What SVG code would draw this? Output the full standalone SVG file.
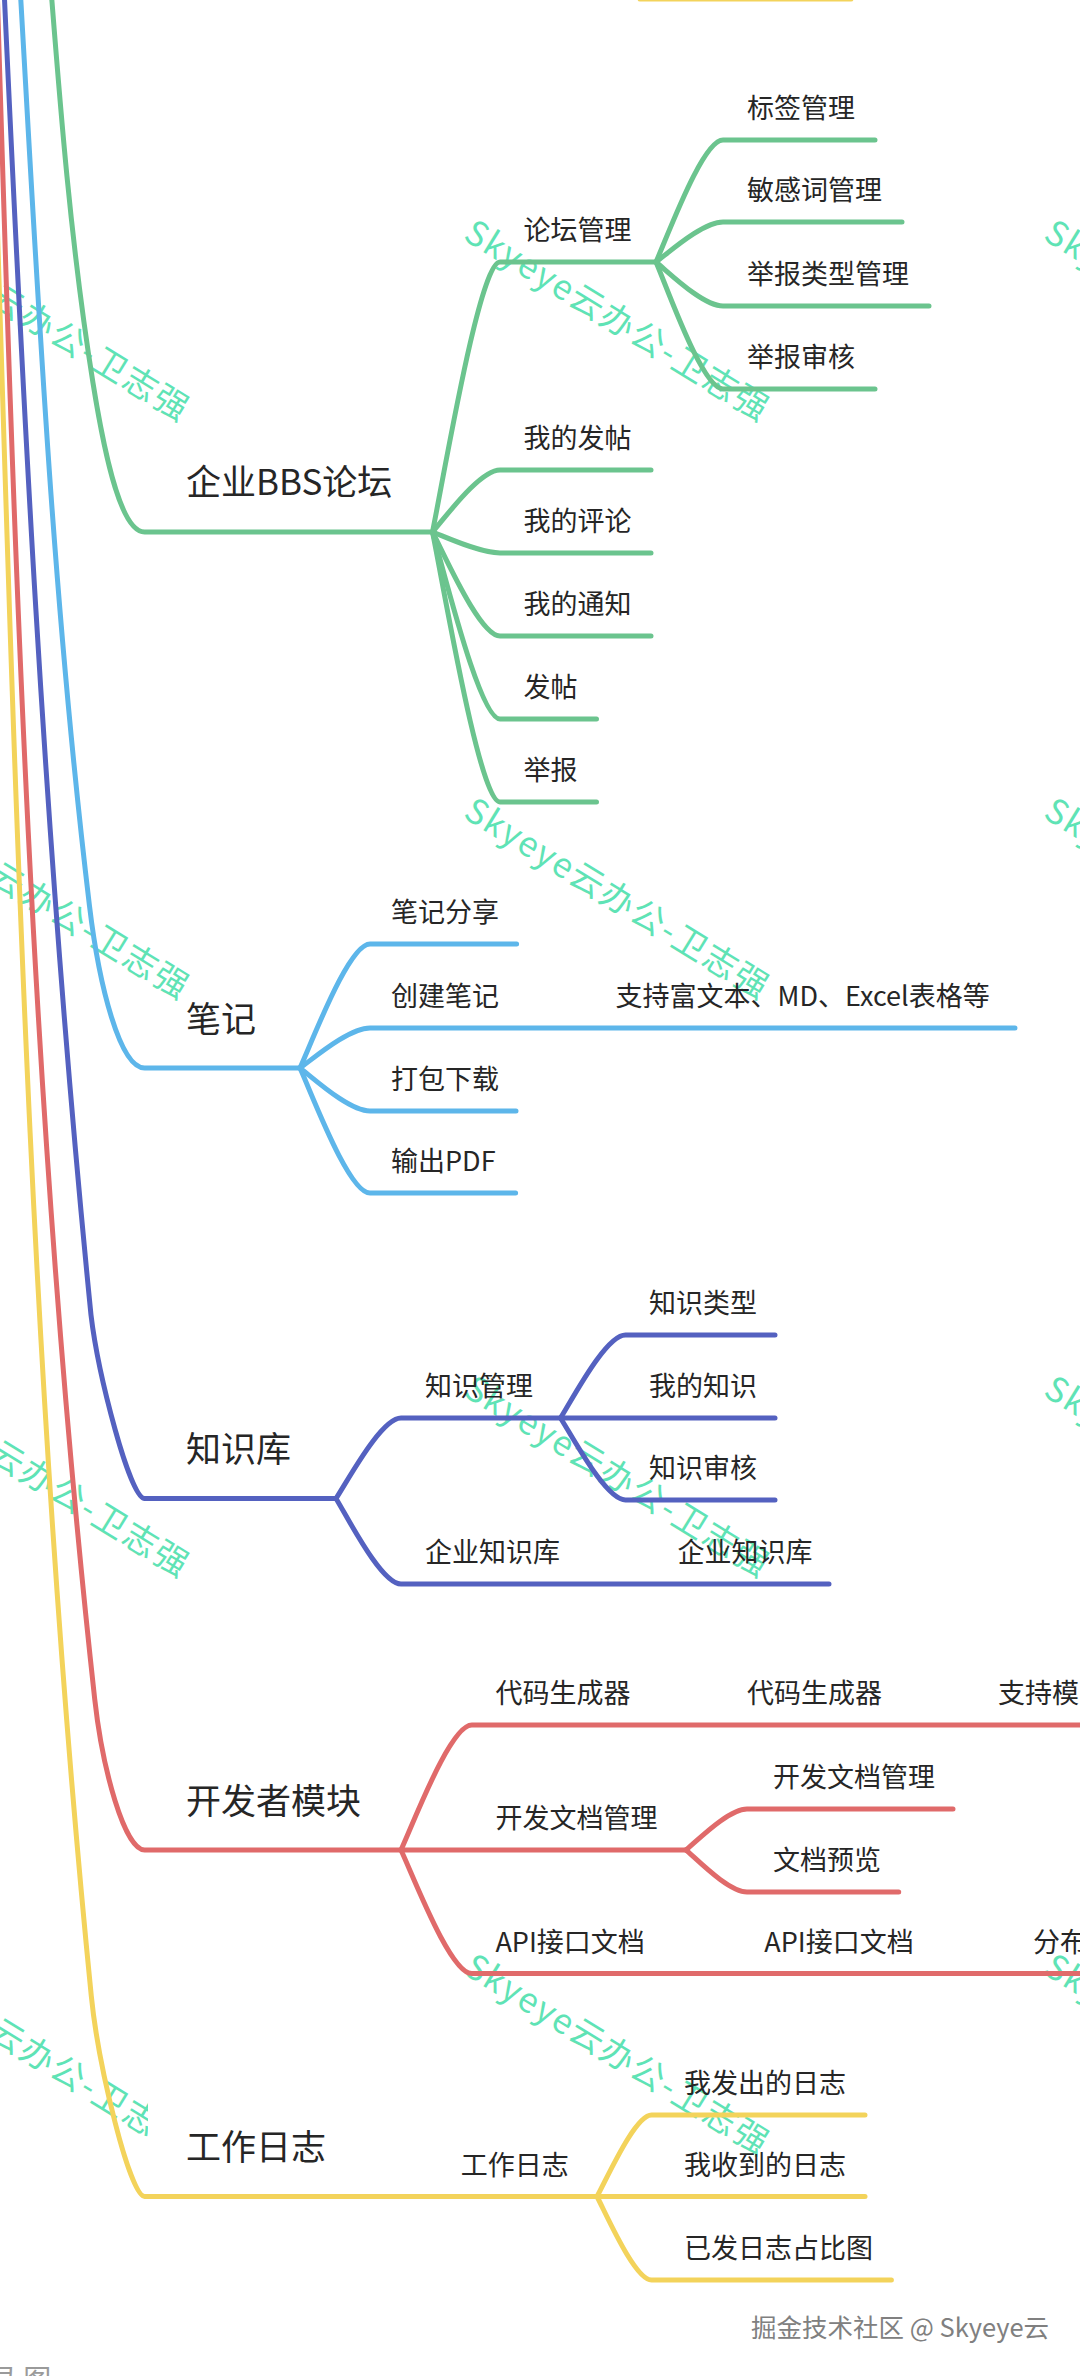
<svg xmlns="http://www.w3.org/2000/svg" xmlns:xlink="http://www.w3.org/1999/xlink" width="1080" height="2376" viewBox="0 0 1080 2376">
<style>
.t{font-family:"Noto Sans CJK SC","Noto Sans",sans-serif;fill:#262626}
.main{font-size:35px}
.sub{font-size:27px}
.ln{fill:none;stroke-width:5;stroke-linecap:round;stroke-linejoin:round}
.g{stroke:#6bc48e}
.lb{stroke:#5db6ea}
.db{stroke:#5461c0}
.r{stroke:#e06a6a}
.y{stroke:#f3d35b}
.wm{font-family:"Noto Sans CJK SC","Noto Sans",sans-serif;font-size:34px;fill:#5fe3b5}
.ft{font-family:"Noto Sans CJK SC","Noto Sans",sans-serif;font-size:25.5px;fill:#808080}
</style>
<defs>
<text id="wm" class="wm" x="0" y="0" transform="rotate(31.6)" textLength="349" lengthAdjust="spacing">Skyeye云办公-卫志强</text>
<clipPath id="clipL3"><rect x="-300" y="1800" width="448" height="500"/></clipPath>
</defs>
<rect width="1080" height="2376" fill="#ffffff"/>
<g id="watermarks">
<use xlink:href="#wm" transform="translate(-118,239)"/>
<use xlink:href="#wm" transform="translate(462,239)"/>
<use xlink:href="#wm" transform="translate(1042,239)"/>
<use xlink:href="#wm" transform="translate(-118,817)"/>
<use xlink:href="#wm" transform="translate(462,817)"/>
<use xlink:href="#wm" transform="translate(1042,817)"/>
<use xlink:href="#wm" transform="translate(-118,1395)"/>
<use xlink:href="#wm" transform="translate(462,1395)"/>
<use xlink:href="#wm" transform="translate(1042,1395)"/>
<g clip-path="url(#clipL3)"><use xlink:href="#wm" transform="translate(-118,1973)"/></g>
<use xlink:href="#wm" transform="translate(462,1973)"/>
<use xlink:href="#wm" transform="translate(1042,1973)"/>
</g>
<g id="connectors">
<path class="ln y" d="M640 -1 L851 -1"/>
<path class="ln g" d="M44 -100 C56.9 61 67.2 222 93 383 C105.8 463 122 532 144.6 532 L432.5 532"/>
<path class="ln lb" d="M15 -100 C35 235 49.3 571 89.5 906 C99.1 986 120 1068 144.6 1068 L300 1068"/>
<path class="ln db" d="M0 -100 C21.2 372 43.8 843 91 1315 C98.2 1375 130 1498.5 144.6 1498.5 L336 1498.5"/>
<path class="ln r" d="M-4 -50 C13.5 533 30.6 1116 94.7 1699 C102.4 1769 124.6 1850 144.6 1850 L401 1850"/>
<path class="ln y" d="M-5 150 C15 799 31.4 1397 91.3 1996 C98.3 2066 130 2196.5 144.6 2196.5 L597 2196.5"/>
<path class="ln g" d="M432.5 532 C446 464.5 480 262 500 262 L656 262"/>
<path class="ln g" d="M432.5 532 C446 516.5 480 470 500 470 L651 470"/>
<path class="ln g" d="M432.5 532 C446 537.25 480 553 500 553 L651 553"/>
<path class="ln g" d="M432.5 532 C446 558 480 636 500 636 L651 636"/>
<path class="ln g" d="M432.5 532 C446 578.75 480 719 500 719 L596.5 719"/>
<path class="ln g" d="M432.5 532 C446 599.5 480 802 500 802 L596.5 802"/>
<path class="ln g" d="M656 262 C669.4 231.5 702.9 140 723 140 L875 140"/>
<path class="ln g" d="M656 262 C669.4 252 702.9 222 723 222 L902 222"/>
<path class="ln g" d="M656 262 C669.4 273 702.9 306 723 306 L929 306"/>
<path class="ln g" d="M656 262 C669.4 293.75 702.9 389 723 389 L875 389"/>
<path class="ln lb" d="M300 1068 C314 1037 349 944 370 944 L516.6 944"/>
<path class="ln lb" d="M300 1068 C314 1058 349 1028 370 1028 L1015 1028"/>
<path class="ln lb" d="M300 1068 C314 1078.75 349 1111 370 1111 L516 1111"/>
<path class="ln lb" d="M300 1068 C314 1099.25 349 1193 370 1193 L515.6 1193"/>
<path class="ln db" d="M336 1498.5 C349 1478.4 381.5 1418 401 1418 L560.5 1418"/>
<path class="ln db" d="M336 1498.5 C349 1519.9 381.5 1584 401 1584 L829 1584"/>
<path class="ln db" d="M560.5 1418 C573.5 1397.25 606 1335 625.5 1335 L775 1335"/>
<path class="ln db" d="M560.5 1418 L775 1418"/>
<path class="ln db" d="M560.5 1418 C573.5 1438.5 606 1500 625.5 1500 L775 1500"/>
<path class="ln r" d="M401 1850 C415.2 1818.75 450.6 1725 471.8 1725 L1090 1725"/>
<path class="ln r" d="M401 1850 L686 1850"/>
<path class="ln r" d="M401 1850 C415.2 1880.9 450.6 1973.6 471.8 1973.6 L1090 1973.6"/>
<path class="ln r" d="M686 1850 C698.2 1839.75 728.7 1809 747 1809 L953 1809"/>
<path class="ln r" d="M686 1850 C698.2 1860.5 728.7 1892 747 1892 L898.7 1892"/>
<path class="ln y" d="M597 2196.5 C607.9 2176.5 635.2 2115 651.5 2115 L865 2115"/>
<path class="ln y" d="M597 2196.5 L865 2196.5"/>
<path class="ln y" d="M597 2196.5 C607.9 2217.75 635.2 2280 651.5 2280 L891.4 2280"/>
</g>
<g id="node-bbs"><text class="t main" x="186" y="495">企业BBS论坛</text></g>
<g id="node-luntan-guanli"><text class="t sub" x="523.6" y="240">论坛管理</text></g>
<g id="node-biaoqian"><text class="t sub" x="747" y="118">标签管理</text></g>
<g id="node-minganci"><text class="t sub" x="747" y="200">敏感词管理</text></g>
<g id="node-jubao-leixing"><text class="t sub" x="747" y="284">举报类型管理</text></g>
<g id="node-jubao-shenhe"><text class="t sub" x="747" y="367">举报审核</text></g>
<g id="node-wode-fatie"><text class="t sub" x="523.6" y="448">我的发帖</text></g>
<g id="node-wode-pinglun"><text class="t sub" x="523.6" y="531">我的评论</text></g>
<g id="node-wode-tongzhi"><text class="t sub" x="523.6" y="614">我的通知</text></g>
<g id="node-fatie"><text class="t sub" x="523.6" y="697">发帖</text></g>
<g id="node-jubao"><text class="t sub" x="523.6" y="780">举报</text></g>
<g id="node-biji"><text class="t main" x="186" y="1032">笔记</text></g>
<g id="node-biji-fenxiang"><text class="t sub" x="391" y="922">笔记分享</text></g>
<g id="node-chuangjian-biji"><text class="t sub" x="391" y="1006">创建笔记</text></g>
<g id="node-fuwenben"><text class="t sub" x="615.5" y="1006">支持富文本、MD、Excel表格等</text></g>
<g id="node-dabao"><text class="t sub" x="391" y="1089">打包下载</text></g>
<g id="node-pdf"><text class="t sub" x="391" y="1171">输出PDF</text></g>
<g id="node-zhishiku"><text class="t main" x="186" y="1462">知识库</text></g>
<g id="node-zhishi-guanli"><text class="t sub" x="425" y="1396">知识管理</text></g>
<g id="node-zhishi-leixing"><text class="t sub" x="649" y="1313">知识类型</text></g>
<g id="node-wode-zhishi"><text class="t sub" x="649" y="1396">我的知识</text></g>
<g id="node-zhishi-shenhe"><text class="t sub" x="649" y="1478">知识审核</text></g>
<g id="node-qiye-zhishiku"><text class="t sub" x="425" y="1562">企业知识库</text></g>
<g id="node-qiye-zhishiku-2"><text class="t sub" x="677.6" y="1562">企业知识库</text></g>
<g id="node-kaifazhe"><text class="t main" x="186" y="1814">开发者模块</text></g>
<g id="node-daima"><text class="t sub" x="495.4" y="1703">代码生成器</text></g>
<g id="node-daima-2"><text class="t sub" x="747" y="1703">代码生成器</text></g>
<g id="node-zhichi-muban"><text class="t sub" x="998" y="1703">支持模</text></g>
<g id="node-kaifa-wendang"><text class="t sub" x="495.4" y="1828">开发文档管理</text></g>
<g id="node-kaifa-wendang-2"><text class="t sub" x="773" y="1787">开发文档管理</text></g>
<g id="node-wendang-yulan"><text class="t sub" x="773" y="1870">文档预览</text></g>
<g id="node-api"><text class="t sub" x="495.4" y="1952">API接口文档</text></g>
<g id="node-api-2"><text class="t sub" x="764.3" y="1952">API接口文档</text></g>
<g id="node-fenbu"><text class="t sub" x="1033" y="1952">分布</text></g>
<g id="node-gongzuo-rizhi"><text class="t main" x="186" y="2160">工作日志</text></g>
<g id="node-gongzuo-rizhi-2"><text class="t sub" x="460.7" y="2175">工作日志</text></g>
<g id="node-fachu"><text class="t sub" x="684" y="2093">我发出的日志</text></g>
<g id="node-shoudao"><text class="t sub" x="684" y="2175">我收到的日志</text></g>
<g id="node-zhanbi"><text class="t sub" x="684" y="2258">已发日志占比图</text></g>
<g id="footer"><text class="ft" x="751" y="2337">掘金技术社区 @ Skyeye云</text></g>
<g id="bottom-cut"><text class="t" x="-11" y="2390" font-size="28" style="fill:#9a9a9a">录 图</text></g>
</svg>
